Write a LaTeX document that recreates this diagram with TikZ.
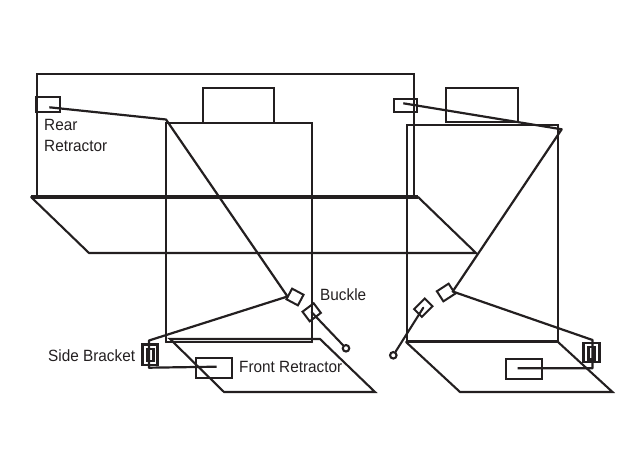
\documentclass[tikz,border=0pt]{standalone}
\usepackage{fontspec}
\setmainfont{Liberation Sans}
\newfontfamily\labelfont[FakeStretch=0.94]{Liberation Sans}
\definecolor{ink}{HTML}{231F20}
\tikzset{
  line/.style={draw=ink,line width=2.1pt,line cap=round,line join=miter},
  heavy/.style={draw=ink,line width=4pt},
  belt/.style={draw=ink,line width=2.2pt,line join=round},
  partbox/.style={draw=ink,line width=2pt,fill=none,inner sep=0pt},
  bracketbox/.style={draw=ink,line width=2.4pt,fill=none,inner sep=0pt},
  label/.style={text=ink,font=\labelfont\fontsize{16.3}{21}\selectfont,inner sep=0pt,align=left},
  ring/.style={circle,draw=ink,line width=2.1pt,fill=white,inner sep=0pt,minimum size=6.5pt},
}
\begin{document}
\begin{tikzpicture}[x=1pt,y=-1pt]
\useasboundingbox (0,0) rectangle (640,454);

% Rear bench and its floor
\draw[line] (37,197) -- (37,74) -- (414,74) -- (414,197);
\coordinate (fl1) at (31,197);
\coordinate (fl2) at (418,197);
\draw[line] (fl1) -- (89,253) -- (476,253) -- (fl2);

% Seats and headrests
\draw[line] (166,342) -- (166,123) -- (312,123) -- (312,342);
\draw[line] (407,342) -- (407,125) -- (558,125) -- (558,342);
\node[partbox,minimum width=71pt,minimum height=35pt] (headL) at (238.5,105.5) {};
\node[partbox,minimum width=72pt,minimum height=34pt] (headR) at (482,105) {};
\draw[heavy] (fl1) -- (fl2);

% Front floors
\draw[line] (170,339) -- (320,339) -- (375,392) -- (224,392) -- cycle;
\draw[line] (166,342) -- (312,342);
\draw[line] (406,342) -- (460,392) -- (612.5,392) -- (558,342);
\draw[draw=ink,line width=3.4pt] (407,341.5) -- (558,341.5);

% Retractors
\node[partbox,minimum width=24pt,minimum height=15pt] (rearL) at (48,105) {};
\node[partbox,minimum width=23pt,minimum height=13pt] (rearR) at (405,106) {};
\node[partbox,minimum width=36pt,minimum height=20pt] (frontL) at (214,368) {};
\node[partbox,minimum width=36pt,minimum height=20pt] (frontR) at (524,369) {};

% Side brackets
\node[bracketbox,minimum width=15pt,minimum height=20.5pt] (brL) at (149.8,354.7) {};
\node[bracketbox,minimum width=6pt,minimum height=12pt] (brLi) at (150.3,355) {};
\node[bracketbox,minimum width=16pt,minimum height=18.5pt] (brR) at (591.3,352.5) {};
\node[bracketbox,minimum width=6pt,minimum height=12pt] (brRi) at (591.3,353.3) {};

% Tongues and buckles
\node[partbox,minimum width=13pt,minimum height=12pt,rotate=-28] (tongueL) at (295,297) {};
\node[partbox,minimum width=14pt,minimum height=12pt,rotate=33] (tongueR) at (446,292.5) {};
\node[partbox,minimum width=14pt,minimum height=12pt,rotate=37] (buckleL) at (311.7,312.3) {};
\node[partbox,minimum width=15pt,minimum height=11pt,rotate=45] (buckleR) at (423.3,307.7) {};
\node[ring] (ringL) at (346,348.3) {};
\node[ring] (ringR) at (393.3,355.3) {};
\draw[line] (buckleL.center) -- (ringL);
\draw[line] (buckleR.center) -- (ringR);

% Belt runs
\coordinate (startL) at (49.3,107.3);
\coordinate (pillarL) at (166,119.5);
\coordinate (tipL) at (287.5,296.5);
\coordinate (lapL) at (149,340.5);
\coordinate (lowL) at (149,367.7);
\coordinate (endL) at (216.7,366.7);
\coordinate (startR) at (403.3,103.3);
\coordinate (pillarR) at (561.7,129.3);
\coordinate (tipR) at (452.7,291.5);
\coordinate (lapR) at (592.5,340);
\coordinate (lowR) at (592.5,368.3);
\coordinate (endR) at (517.7,368.3);
\draw[belt] (startL) -- (pillarL) -- (tipL) -- (lapL) -- (lowL) -- (endL);
\draw[belt] (startR) -- (pillarR) -- (tipR) -- (lapR) -- (lowR) -- (endR);

% Labels
\node[label,anchor=base west] (rearText) at (44,131) {Rear};
\node[label,anchor=base west] (retractorText) at (44,152) {Retractor};
\node[label,anchor=base west] (buckleText) at (320,300.7) {Buckle};
\node[label,anchor=base west] (bracketText) at (48,361.7) {Side Bracket};
\node[label,anchor=base west] (frontText) at (239,372.7) {Front Retractor};
\end{tikzpicture}
\end{document}
